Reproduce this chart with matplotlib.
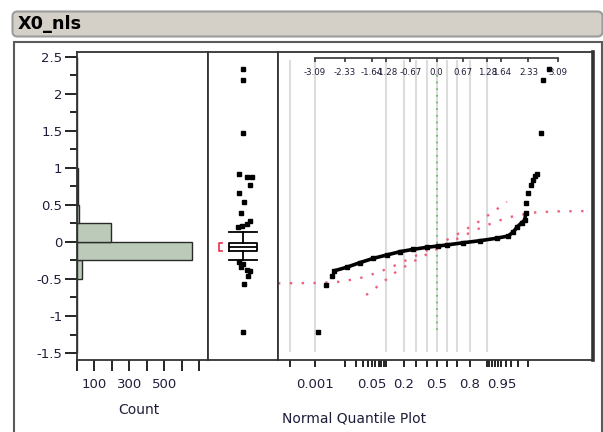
import math
import matplotlib
matplotlib.use('Agg')
import matplotlib.pyplot as plt
from matplotlib.patches import FancyBboxPatch, Rectangle
from matplotlib.ticker import FixedLocator, FormatStrFormatter
import numpy as np

# ---- data ----
title = "X0_nls"

# histogram (bins of 0.25)
bin_edges = [-1.5, -1.25, -1.0, -0.75, -0.5, -0.25, 0.0, 0.25, 0.5,
             0.75, 1.0, 1.25, 1.5, 1.75, 2.0, 2.25, 2.5]
bin_counts = [0, 1, 0, 1, 27, 655, 193, 9, 3, 5, 0, 1, 0, 0, 1, 1]
count_ticks = [0, 100, 200, 300, 400, 500, 600, 700]
count_labels = ['', '100', '', '300', '', '500', '', '']

# outlier box plot
box_stats = dict(med=-0.065, q1=-0.119, q3=-0.011, whislo=-0.248, whishi=0.138, fliers=[])
short_half = (-0.119, -0.011)
out_v = [2.33, 2.19, 1.466, 0.912, 0.88, 0.872, 0.764, 0.656, 0.534, 0.386, 0.286,
         0.242, 0.215, 0.205, -0.267, -0.298, -0.334, -0.379, -0.388, -0.46, -0.572, -1.21]
out_x = [0.504, 0.504, 0.504, 0.447, 0.561, 0.624, 0.6, 0.447, 0.519, 0.471, 0.6,
         0.553, 0.481, 0.433, 0.447, 0.504, 0.467, 0.553, 0.6, 0.576, 0.514, 0.504]

# normal quantile plot: sparse tail points and the dense middle
tail_z = [-3.02, -2.82, -2.66, 2.28, 2.31, 2.40, 2.44, 2.50, 2.56, 2.64, 2.69, 2.85]
tail_v = [-1.21, -0.58, -0.46, 0.529, 0.656, 0.768, 0.835, 0.889, 0.912, 1.466, 2.19, 2.33]
curve_z = [-2.60, -2.29, -1.95, -1.61, -1.27, -0.93, -0.59, -0.25, 0.04, 0.25, 0.68,
           1.10, 1.52, 1.82, 1.95, 2.05, 2.16, 2.24, 2.26]
curve_v = [-0.39, -0.343, -0.28, -0.222, -0.177, -0.132, -0.10, -0.073, -0.055, -0.042,
           -0.011, 0.016, 0.049, 0.08, 0.138, 0.205, 0.259, 0.296, 0.386]

# confidence bands (red dotted)
upper_z = [-4.03, -3.0, -2.5, -2.0, -1.5, -1.0, -0.5, 0.0, 0.5, 1.0, 1.3, 1.5, 1.78]
upper_v = [-0.559, -0.554, -0.539, -0.497, -0.415, -0.305, -0.179, -0.045, 0.096,
           0.249, 0.357, 0.43, 0.542]
lower_z = [-1.79, -1.5, -1.0, -0.5, 0.0, 0.5, 1.0, 1.5, 2.0, 2.5, 3.0, 3.97]
lower_v = [-0.717, -0.60, -0.391, -0.238, -0.097, 0.037, 0.163, 0.274, 0.355, 0.397,
           0.412, 0.417]

# top axis (normal quantiles) and bottom axis (probabilities)
top_z = [-3.09, -2.33, -1.64, -1.28, -0.67, 0.0, 0.67, 1.28, 1.64, 2.33, 3.09]
top_labels = ['-3.09', '-2.33', '-1.64', '-1.28', '-0.67', '0.0', '0.67', '1.28',
              '1.64', '2.33', '3.09']
prob_ticks = [0.0001, 0.001, 0.01, 0.02, 0.03, 0.04, 0.05, 0.06, 0.07, 0.08, 0.09,
              0.1, 0.2, 0.3, 0.4, 0.5, 0.6, 0.7, 0.8, 0.9, 0.91, 0.92, 0.93, 0.94,
              0.95, 0.96, 0.97, 0.98, 0.99]
prob_labels = {0.001: '0.001', 0.05: '0.05', 0.2: '0.2', 0.5: '0.5', 0.8: '0.8', 0.95: '0.95'}
grid_probs = [0.0001, 0.001, 0.1, 0.2, 0.3, 0.4, 0.5, 0.6, 0.7, 0.8, 0.9]


def norm_ppf(p):
    # inverse normal cdf by bisection (numpy has none)
    lo, hi = -10.0, 10.0
    for _ in range(80):
        mid = (lo + hi) / 2
        if 0.5 * (1 + math.erf(mid / math.sqrt(2))) < p:
            lo = mid
        else:
            hi = mid
    return (lo + hi) / 2


W, H = 603, 432
fig = plt.figure(figsize=(W / 100, H / 100), dpi=100)
plt.rcParams['font.family'] = 'DejaVu Sans'
txt = '#1e1e3a'


def px_axes(l, t, r, b):
    return fig.add_axes([l / W, 1 - b / H, (r - l) / W, (b - t) / H])


# background: title bar and report frame
bg = fig.add_axes([0, 0, 1, 1])
bg.set_xlim(0, W)
bg.set_ylim(H, 0)
bg.axis('off')
bg.add_patch(FancyBboxPatch((12.5, 11.5), 590, 25, boxstyle='round,pad=0,rounding_size=5',
                            fc='#d4d0c8', ec='#9c9c9c', lw=1.5))
bg.text(18, 24, title, fontsize=12.7, fontweight='bold', va='center', ha='left', color='black')
bg.add_patch(Rectangle((14, 42), 587.5, 400, fc='white', ec='#5a5a5a', lw=1.5))
bg.text(139, 410, 'Count', fontsize=10, ha='center', va='center', color=txt)
bg.text(354, 418, 'Normal Quantile Plot', fontsize=10, ha='center', va='center', color=txt)

ylim = (-1.594, 2.563)

# histogram
ax1 = px_axes(77, 52, 208, 360)
ax1.barh(bin_edges[:-1], bin_counts, height=0.25, align='edge',
         color='#bccbb9', edgecolor='#2a2a2a', linewidth=1)
ax1.set_ylim(*ylim)
ax1.set_xlim(0, 748.6)
ax1.yaxis.set_major_locator(FixedLocator(np.arange(-1.5, 2.51, 0.5)))
ax1.yaxis.set_minor_locator(FixedLocator(np.arange(-1.5, 2.51, 0.25)))
ax1.yaxis.set_major_formatter(FormatStrFormatter('%g'))
ax1.set_xticks(count_ticks)
ax1.set_xticklabels(count_labels)
ax1.tick_params(axis='y', which='major', length=9, width=1.2, pad=1.5, labelsize=9.5, labelcolor=txt)
ax1.tick_params(axis='y', which='minor', length=5, width=1.2)
ax1.tick_params(axis='x', length=8, width=1.2, pad=5, labelsize=9.5, labelcolor=txt)

# box plot
ax2 = px_axes(208, 52, 278, 360)
ax2.set_ylim(*ylim)
ax2.set_xlim(0, 1)
ax2.bxp([box_stats], positions=[0.5], widths=0.4, capwidths=0.4, showfliers=False,
        boxprops=dict(color='black', lw=1.3), whiskerprops=dict(color='black', lw=1.3),
        capprops=dict(color='black', lw=1.3), medianprops=dict(color='black', lw=1.3))
ax2.plot(out_x, out_v, 's', color='black', ms=3)
ax2.plot([0.2, 0.15, 0.15, 0.2], [short_half[1], short_half[1], short_half[0], short_half[0]],
         color='#e8304a', lw=1.2)
ax2.set_xticks([])
ax2.set_yticks([])

# normal quantile plot
ax3 = px_axes(278, 52, 593, 360)
ax3.set_ylim(*ylim)
ax3.set_xlim(-4.03, 3.97)
grid_z = [norm_ppf(p) for p in grid_probs]
ax3.vlines(grid_z, -1.48, 2.45, color='#dcdcdc', lw=1.5, zorder=1)
ax3.plot([0, 0], [-1.19, 2.28], color='#5cb85c', lw=1.2, ls=(0, (1, 3)), zorder=2)
ax3.plot(upper_z, upper_v, color='#f0607a', lw=1.7, ls=(0, (1, 4)), zorder=2)
ax3.plot(lower_z, lower_v, color='#f0607a', lw=1.7, ls=(0, (1, 4)), zorder=2)
ax3.plot(curve_z, curve_v, '-s', color='black', lw=2.6, ms=2.7, zorder=3)
ax3.plot(tail_z, tail_v, 's', color='black', ms=3.2, zorder=3)

# top quantile axis drawn inside the frame
top_y = 2.482
ax3.plot([top_z[0], top_z[-1]], [top_y, top_y], color='#333333', lw=1.2)
ax3.vlines(top_z, top_y - 0.05, top_y, color='#333333', lw=1.2)
for z, lab in zip(top_z, top_labels):
    ax3.text(z, top_y - 0.2, lab, fontsize=6.2, ha='center', va='center', color=txt)

ax3.set_xticks([norm_ppf(p) for p in prob_ticks])
ax3.set_xticklabels([prob_labels.get(p, '') for p in prob_ticks])
ax3.tick_params(axis='x', length=5, width=1.2, pad=8, labelsize=9.5, labelcolor=txt)
ax3.set_yticks([])

for a in (ax1, ax2, ax3):
    for s in a.spines.values():
        s.set_color('#333333')
        s.set_linewidth(1.3)
ax3.spines['right'].set_linewidth(2.6)

fig.savefig('out.png', dpi=100)
